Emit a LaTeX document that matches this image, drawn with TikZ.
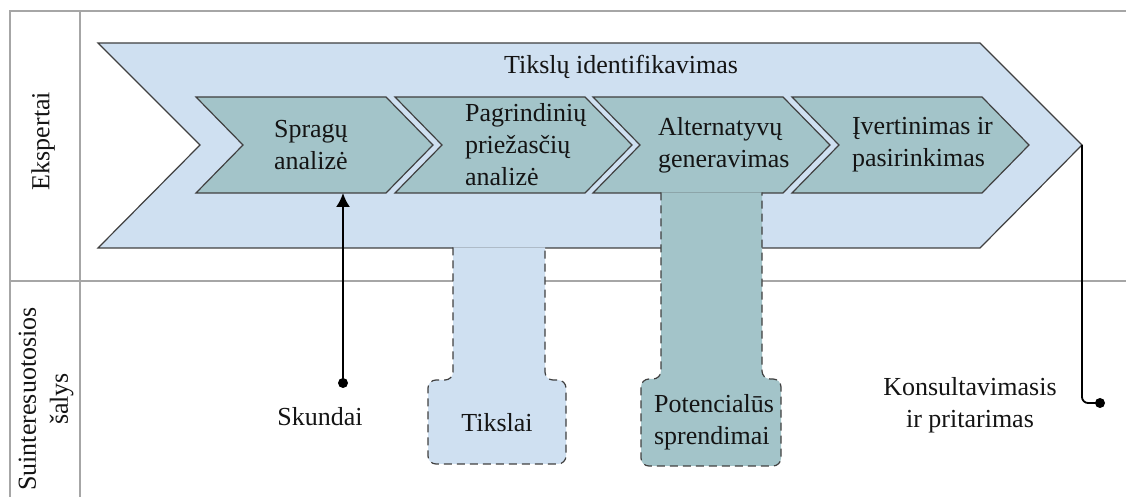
\documentclass[tikz,border=0pt]{standalone}
\usepackage{fontspec}
\setmainfont{Liberation Serif}
\newfontfamily\diagfont{Liberation Serif}
\usetikzlibrary{arrows.meta}
\definecolor{paleblue}{HTML}{CFE0F1}
\definecolor{stagefill}{HTML}{A3C4C9}
\definecolor{edgegray}{HTML}{404040}
\definecolor{lanegray}{HTML}{A6A6A6}

\begin{document}
\begin{tikzpicture}[
  x=0.5pt,y=-0.5pt,
  every node/.style={font=\diagfont\fontsize{13}{16}\selectfont,text=black!92},
  lane/.style={draw=lanegray,line width=0.75pt},
  band/.style={draw=edgegray,fill=paleblue,line width=0.6pt},
  stage/.style={draw=edgegray,fill=stagefill,line width=0.6pt},
  stagetext/.style={anchor=west,align=left},
  outbox/.style={draw=edgegray,dash pattern=on 4pt off 2.5pt,line width=0.6pt,
                 rounded corners=4pt},
  flow/.style={-{Latex[length=7pt,width=7pt]},line width=1pt},
  dot/.style={circle,fill=black,inner sep=0pt,minimum size=5pt}
]
\useasboundingbox (0,0) rectangle (1126,497);
% swimlanes
\draw[lane] (1126,11) -- (10,11) -- (10,497);
\draw[lane] (80,11) -- (80,497);
\draw[lane] (10,281) -- (1126,281);
\node[rotate=90] (experts) at (43,141) {Ekspertai};
\node[rotate=90,align=center] (parties) at (46,399) {Suinteresuotosios\\šalys};

% main band
\draw[band] (98,43) -- (980,43) -- (1082,145) -- (980,248) -- (98,248) -- (200,145) -- cycle;
\node (goalid) at (621,67) {Tikslų identifikavimas};

% stages
\foreach \x/\tx/\name/\txt in {196/267/gap/{Spragų\\analizė},
    395/458/cause/{Pagrindinių\\priežasčių\\analizė},
    593/651/altgen/{Alternatyvų\\generavimas},
    792/845/choice/{Įvertinimas ir\\pasirinkimas}}{
  \draw[stage] (\x,97) -- ++(190,0) -- ++(47,48) -- ++(-47,48) -- ++(-190,0)
    -- ++(47,-48) -- cycle;
  \node[stagetext] (\name) at (\tx,145) {\txt};
}

% outputs
\draw[outbox,fill=paleblue] (453,247.4) -- (453,380) -- (428,380) -- (428,464)
  -- (566,464) -- (566,380) -- (545,380) -- (545,247.4);
\node (goals) at (497,423) {Tikslai};

\draw[outbox,fill=stagefill] (661,192.4) -- (661,379) -- (641,379) -- (641,466)
  -- (781,466) -- (781,379) -- (762,379) -- (762,192.4);
\node[anchor=west,align=left] (solutions) at (647,422) {Potencialūs\\sprendimai};

% inputs
\coordinate (gapbot) at (343,193);
\node[dot] (gapdot) at (343,383) {};
\node (complaints) at (320,417) {Skundai};
\draw[flow] (gapdot.center) -- (gapbot);

\coordinate (bandtip) at (1082,145);
\node[dot] (consdot) at (1100,403) {};
\node[align=center] (consult) at (970,405) {Konsultavimasis\\ir pritarimas};
\draw[line width=0.9pt,rounded corners=3pt] (bandtip) -- (bandtip |- consdot) -- (consdot.center);
\end{tikzpicture}
\end{document}
